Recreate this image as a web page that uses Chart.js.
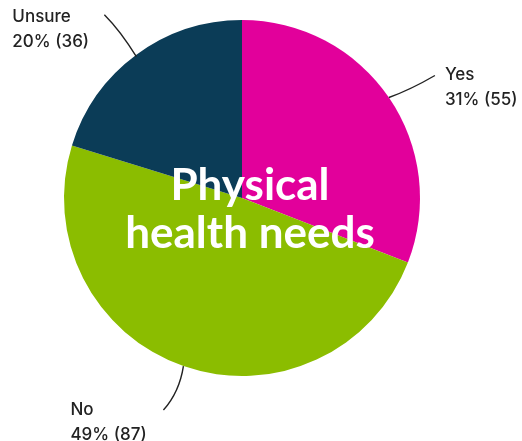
<!DOCTYPE html>
<html>
<head>
<meta charset="utf-8">
<script src="https://cdn.jsdelivr.net/npm/chart.js@4"></script>
<style>
    html, body { margin: 0; padding: 0; background: #ffffff; }
    #wrap { width: 522px; height: 441px; position: relative; }
</style>
</head>
<body>
<div id="wrap"><canvas id="PhysicalHealthChart"></canvas></div>
<script>
var Answers = ['Yes', 'No', 'Unsure']
var Counts = [55, 87, 36]
var Percents = [31, 49, 20]
var SliceColors = ['#e2009b', '#8bbd00', '#0b3c57']
var TitleLines = ['Physical', 'health needs']

// leader line + label placement per slice (dx/dy from the edge point of the slice's mid angle)
var LabelPlace = [
    { line: [[0, 0], [22, -8], [46, -22]], text: [56, -23] },
    { line: [[0, 0], [-4, 26], [-20, 44]], text: [-113, 44] },
    { line: [[0, 2], [-16, -24], [-32, -40]], text: [-124, -38] }
]

var outsideLabels = {
    id: 'outsideLabels',
    afterDraw: function (chart) {
        var ctx = chart.ctx
        var meta = chart.getDatasetMeta(0)
        ctx.save()
        meta.data.forEach(function (arc, i) {
            var mid = (arc.startAngle + arc.endAngle) / 2
            var ex = arc.x + Math.cos(mid) * arc.outerRadius
            var ey = arc.y + Math.sin(mid) * arc.outerRadius
            var p = LabelPlace[i]
            ctx.beginPath()
            ctx.strokeStyle = '#222222'
            ctx.lineWidth = 1.4
            ctx.moveTo(ex + p.line[0][0], ey + p.line[0][1])
            ctx.quadraticCurveTo(ex + p.line[1][0], ey + p.line[1][1], ex + p.line[2][0], ey + p.line[2][1])
            ctx.stroke()

            ctx.fillStyle = '#222222'
            ctx.font = '500 17px Inter'
            ctx.textAlign = 'left'
            ctx.textBaseline = 'middle'
            var tx = ex + p.text[0]
            var ty = ey + p.text[1]
            ctx.fillText(Answers[i], tx, ty)
            ctx.fillText(Percents[i] + '% (' + Counts[i] + ')', tx, ty + 25)
        })

        // title in the middle of the pie
        var a = meta.data[0]
        ctx.fillStyle = '#ffffff'
        ctx.font = 'bold 44px Lato'
        ctx.textAlign = 'center'
        ctx.textBaseline = 'alphabetic'
        ctx.fillText(TitleLines[0], a.x + 8, a.y + 2)
        ctx.fillText(TitleLines[1], a.x + 8, a.y + 50)
        ctx.restore()
    }
}

var config_PhysicalHealth = {
    type: 'pie',
    data: {
        labels: Answers,
        datasets: [{
            data: Counts,
            backgroundColor: SliceColors,
            borderWidth: 0,
        }],
    },
    plugins: [outsideLabels],
    options: {
        responsive: true,
        maintainAspectRatio: false,
        animation: false,
        layout: {
            padding: { left: 64, right: 102, top: 20, bottom: 65 }
        },
        plugins: {
            legend: { display: false },
            tooltip: { enabled: false },
        },
    },
}

var PhysicalHealthElement = document.getElementById('PhysicalHealthChart').getContext('2d')
new Chart(PhysicalHealthElement, config_PhysicalHealth)
</script>
</body>
</html>
